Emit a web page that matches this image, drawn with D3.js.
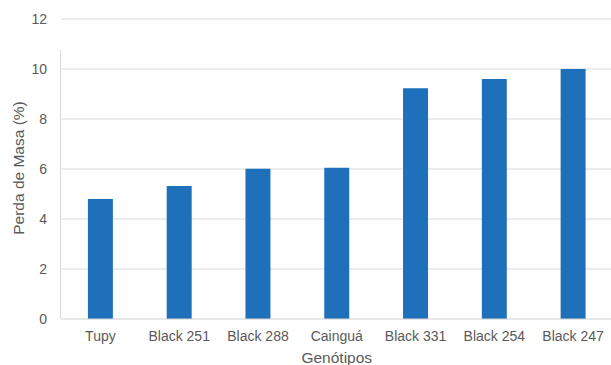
<!DOCTYPE html>
<html><head><meta charset="utf-8">
<script src="https://cdn.jsdelivr.net/npm/d3@7"></script>
<style>body{margin:0;background:#fff}svg{display:block}text{font-family:"Liberation Sans",Arial,sans-serif;fill:#595959}</style>
</head><body><svg id="c" width="611" height="365"></svg>
<script>
const categories = ["Tupy","Black 251","Black 288","Cainguá","Black 331","Black 254","Black 247"];
const values = [4.8, 5.32, 6.01, 6.05, 9.23, 9.6, 10.0];
const yTicks = [0,2,4,6,8,10,12];
const yTitle = "Perda de Masa (%)";
const xTitle = "Genótipos";

const svg = d3.select("#c");
const L = 61, R = 612.5, T = 19, B = 319;
const x = d3.scaleBand().domain(categories).range([L, R]).paddingInner(0.683).paddingOuter(0.3415);
const y = d3.scaleLinear().domain([0,12]).range([B, T]);

// gridlines
svg.append("g").selectAll("line").data(yTicks.filter(d=>d>0)).join("line")
  .attr("x1", L).attr("x2", 611).attr("y1", d=>y(d)).attr("y2", d=>y(d))
  .attr("stroke", "#d9d9d9").attr("stroke-width", 1);
// vertical axis line
svg.append("line").attr("x1", L-0.5).attr("x2", L-0.5).attr("y1", 50).attr("y2", B)
  .attr("stroke", "#d9d9d9");

// bars
svg.append("g").selectAll("rect").data(values).join("rect")
  .attr("x", (d,i)=>x(categories[i])).attr("width", x.bandwidth())
  .attr("y", d=>y(d)).attr("height", d=>B - y(d))
  .attr("fill", "#1e70bb");

// baseline
svg.append("line").attr("x1", L).attr("x2", 611).attr("y1", B).attr("y2", B)
  .attr("stroke", "#d0d0d0").attr("stroke-width", 1.2);

// y tick labels
const ya = d3.axisLeft(y).tickValues(yTicks).tickSize(0).tickPadding(0).tickFormat(d3.format("d"));
const gy = svg.append("g").attr("transform", `translate(47,0)`).call(ya);
gy.select(".domain").remove();
gy.selectAll("text").attr("font-size", 14).style("fill","#595959").style("font-family",'"Liberation Sans",Arial,sans-serif');

// x tick labels
const xa = d3.axisBottom(x).tickSize(0).tickPadding(0);
const gx = svg.append("g").attr("transform", `translate(0,331)`).call(xa);
gx.select(".domain").remove();
gx.selectAll("text").attr("font-size", 14).attr("dy","0.71em").style("fill","#595959").style("font-family",'"Liberation Sans",Arial,sans-serif');

// titles
svg.append("text").attr("x", (L+R)/2).attr("y", 363).attr("text-anchor","middle")
  .attr("font-size", 15.5).text(xTitle);
svg.append("text").attr("transform", `translate(24,168) rotate(-90)`).attr("text-anchor","middle")
  .attr("font-size", 15.5).text(yTitle);
</script></body></html>
